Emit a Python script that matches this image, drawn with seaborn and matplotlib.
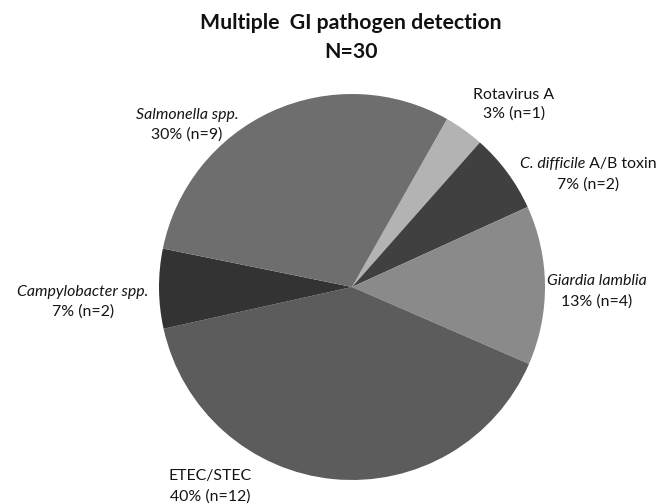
import matplotlib
matplotlib.use("Agg")
import matplotlib.pyplot as plt
import seaborn as sns

# ---- data ----
categories = ["Rotavirus A", "C. difficile A/B toxin", "Giardia lamblia",
              "ETEC/STEC", "Campylobacter spp.", "Salmonella spp."]
counts = [1, 2, 4, 12, 2, 9]
percents = ["3%", "7%", "13%", "40%", "7%", "30%"]
colors = ["#b3b3b3", "#404040", "#8a8a8a", "#5c5c5c", "#333333", "#6e6e6e"]
title_lines = ["Multiple  GI pathogen detection", "N=30"]

sns.set_theme(style="white")
plt.rcParams['font.family'] = ['Lato', 'DejaVu Sans']

W, H = 656, 504
fig = plt.figure(figsize=(W / 100, H / 100), dpi=100)
ax = fig.add_axes([0, 0, 1, 1])

cx, cy, r = 352, H - 287, 193
ax.pie(counts, colors=colors, startangle=60.5, counterclock=False,
       center=(cx, cy), radius=r, frame=True,
       wedgeprops=dict(linewidth=0, antialiased=True))
ax.set_xlim(0, W)
ax.set_ylim(0, H)
ax.set_aspect("equal")
ax.axis("off")

renderer = fig.canvas.get_renderer()

# label layout (pixel positions of label centres: x, line1 y, line2 y)
label_pos = [(514, 95, 114), (588, 164, 185), (597, 281, 302),
             (210, 476, 497), (83, 292, 312), (187, 115, 135)]
fs = 11.4
tc = "#141414"
for i, (name, n, p) in enumerate(zip(categories, counts, percents)):
    x, y1, y2 = label_pos[i]
    if name.startswith("C. difficile"):
        t_it = ax.text(0, H - y1, "C. difficile", style="italic",
                       ha="left", va="center", fontsize=fs, color=tc)
        t_rm = ax.text(0, H - y1, " A/B toxin", ha="left", va="center",
                       fontsize=fs, color=tc)
        w_it = t_it.get_window_extent(renderer).width
        w_rm = t_rm.get_window_extent(renderer).width
        left = x - (w_it + w_rm) / 2
        t_it.set_x(left)
        t_rm.set_x(left + w_it)
    elif name in ("Rotavirus A", "ETEC/STEC"):
        ax.text(x, H - y1, name, ha="center", va="center", fontsize=fs,
                color=tc)
    else:
        ax.text(x, H - y1, name, ha="center", va="center", fontsize=fs,
                style="italic", color=tc)
    ax.text(x, H - y2, f"{p} (n={n})", ha="center", va="center",
            fontsize=fs, color=tc)

ax.text(351, H - 23, title_lines[0], ha="center", va="center",
        fontsize=15.3, fontweight="bold", color="#111111")
ax.text(351, H - 52, title_lines[1], ha="center", va="center",
        fontsize=15.3, fontweight="bold", color="#111111")

fig.savefig("out.png", dpi=100, facecolor="white")
